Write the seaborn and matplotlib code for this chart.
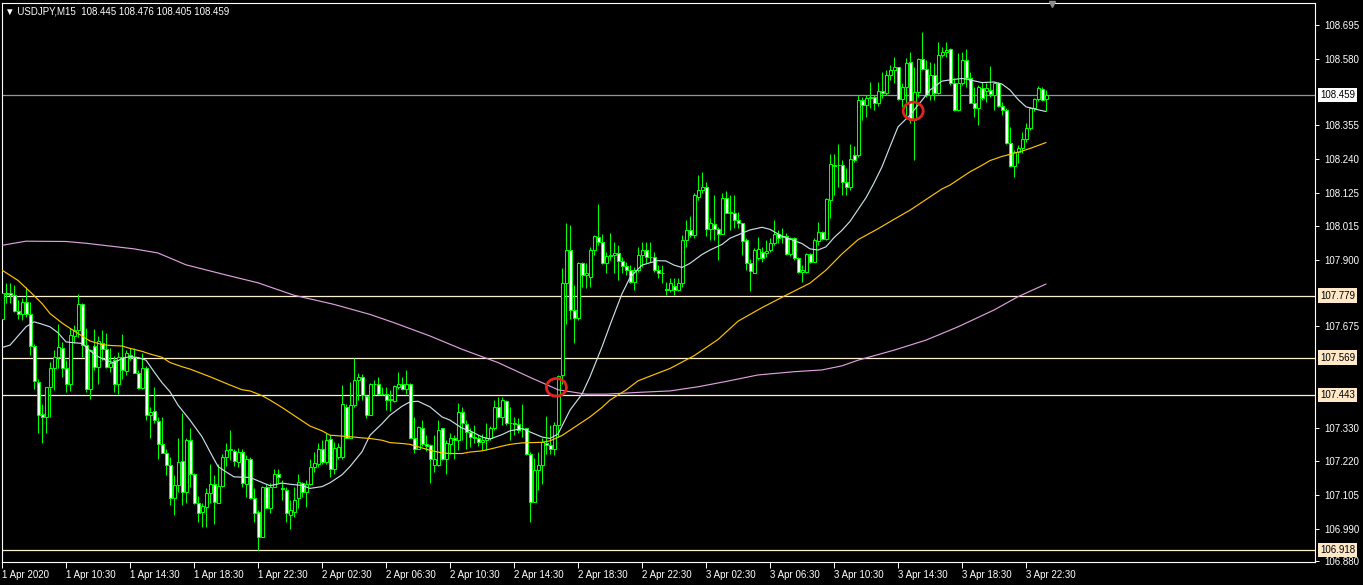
import numpy as np
import pandas as pd
import matplotlib
matplotlib.use("Agg")
import matplotlib.pyplot as plt
from matplotlib.patches import Ellipse
import seaborn as sns

# USDJPY M15 bars, 1 Apr 06:30 -> 3 Apr 23:45
opens = [
    107.698, 107.786, 107.786, 107.780, 107.726, 107.715, 107.756, 107.716, 107.609, 107.487,
    107.377, 107.366, 107.470, 107.532, 107.572, 107.603, 107.535, 107.478, 107.642, 107.662,
    107.749, 107.613, 107.461, 107.608, 107.538, 107.617, 107.599, 107.538, 107.560, 107.481,
    107.572, 107.524, 107.577, 107.572, 107.517, 107.467, 107.532, 107.376, 107.389, 107.355,
    107.275, 107.246, 107.205, 107.092, 107.137, 107.218, 107.114, 107.289, 107.173, 107.075,
    107.047, 107.064, 107.111, 107.140, 107.077, 107.133, 107.231, 107.255, 107.253, 107.215,
    107.249, 107.140, 107.227, 107.095, 107.047, 106.962, 107.131, 107.058, 107.131, 107.176,
    107.127, 107.122, 107.035, 107.047, 107.092, 107.145, 107.114, 107.140, 107.199, 107.210,
    107.258, 107.216, 107.293, 107.193, 107.231, 107.231, 107.402, 107.298, 107.408, 107.493,
    107.502, 107.438, 107.376, 107.478, 107.481, 107.447, 107.444, 107.425, 107.421, 107.470,
    107.481, 107.464, 107.481, 107.298, 107.261, 107.332, 107.276, 107.272, 107.205, 107.205,
    107.329, 107.227, 107.275, 107.297, 107.289, 107.385, 107.343, 107.318, 107.301, 107.298,
    107.284, 107.289, 107.295, 107.329, 107.402, 107.366, 107.421, 107.346, 107.349, 107.343,
    107.329, 107.329, 107.244, 107.080, 107.188, 107.205, 107.280, 107.272, 107.261, 107.340,
    107.509, 107.820, 107.933, 107.730, 107.704, 107.890, 107.848, 107.842, 107.933, 107.976,
    107.961, 107.888, 107.912, 107.915, 107.922, 107.896, 107.880, 107.865, 107.826, 107.865,
    107.916, 107.933, 107.910, 107.910, 107.865, 107.856, 107.801, 107.797, 107.811, 107.797,
    107.822, 107.967, 108.001, 107.984, 108.114, 108.136, 108.145, 108.003, 108.020, 108.003,
    107.989, 108.108, 108.060, 108.060, 108.035, 108.023, 107.967, 107.890, 107.856, 107.905,
    107.927, 107.922, 107.933, 107.958, 107.986, 107.976, 107.980, 107.919, 107.973, 107.905,
    107.860, 107.860, 107.919, 107.894, 107.965, 107.995, 107.969, 108.102, 108.221, 108.220,
    108.221, 108.164, 108.147, 108.255, 108.255, 108.441, 108.424, 108.447, 108.452, 108.430,
    108.473, 108.466, 108.526, 108.543, 108.552, 108.443, 108.486, 108.571, 108.373, 108.469,
    108.579, 108.545, 108.458, 108.526, 108.464, 108.593, 108.605, 108.613, 108.500, 108.407,
    108.500, 108.577, 108.514, 108.432, 108.413, 108.481, 108.473, 108.475, 108.458, 108.497,
    108.421, 108.407, 108.297, 108.218, 108.266, 108.277, 108.308, 108.345, 108.413, 108.443,
    108.477, 108.445,
]
highs = [
    107.837, 107.820, 107.822, 107.814, 107.764, 107.769, 107.809, 107.758, 107.614, 107.496,
    107.411, 107.470, 107.555, 107.594, 107.684, 107.622, 107.560, 107.668, 107.679, 107.784,
    107.752, 107.668, 107.598, 107.664, 107.642, 107.662, 107.653, 107.603, 107.574, 107.589,
    107.648, 107.594, 107.603, 107.603, 107.526, 107.583, 107.540, 107.402, 107.470, 107.368,
    107.368, 107.261, 107.233, 107.171, 107.295, 107.382, 107.295, 107.329, 107.178, 107.100,
    107.075, 107.126, 107.208, 107.171, 107.210, 107.244, 107.278, 107.323, 107.261, 107.264,
    107.261, 107.238, 107.231, 107.126, 107.052, 107.133, 107.140, 107.143, 107.193, 107.193,
    107.154, 107.131, 107.088, 107.131, 107.176, 107.148, 107.154, 107.227, 107.250, 107.278,
    107.289, 107.312, 107.306, 107.284, 107.278, 107.476, 107.413, 107.487, 107.566, 107.515,
    107.513, 107.442, 107.483, 107.493, 107.504, 107.470, 107.470, 107.459, 107.476, 107.521,
    107.504, 107.526, 107.483, 107.366, 107.337, 107.359, 107.306, 107.276, 107.306, 107.359,
    107.332, 107.289, 107.312, 107.306, 107.416, 107.402, 107.357, 107.332, 107.340, 107.306,
    107.309, 107.346, 107.337, 107.425, 107.436, 107.436, 107.425, 107.402, 107.368, 107.363,
    107.413, 107.332, 107.250, 107.228, 107.250, 107.295, 107.371, 107.340, 107.351, 107.509,
    107.871, 108.023, 108.017, 107.814, 107.893, 107.893, 107.888, 107.944, 107.984, 108.089,
    107.989, 107.927, 107.991, 107.961, 107.950, 107.910, 107.893, 107.882, 107.876, 107.944,
    107.961, 107.961, 107.961, 107.927, 107.882, 107.882, 107.826, 107.837, 107.837, 107.837,
    107.984, 108.035, 108.048, 108.125, 108.187, 108.198, 108.164, 108.040, 108.119, 108.012,
    108.127, 108.134, 108.119, 108.119, 108.063, 108.026, 107.973, 107.901, 107.939, 107.976,
    107.944, 107.967, 107.973, 108.035, 108.001, 108.006, 107.990, 107.978, 107.978, 107.908,
    107.882, 107.922, 107.922, 107.973, 108.029, 107.998, 108.108, 108.258, 108.258, 108.292,
    108.238, 108.210, 108.292, 108.285, 108.458, 108.450, 108.458, 108.503, 108.458, 108.503,
    108.537, 108.543, 108.560, 108.588, 108.554, 108.497, 108.582, 108.605, 108.554, 108.582,
    108.672, 108.577, 108.571, 108.565, 108.639, 108.622, 108.639, 108.616, 108.514, 108.599,
    108.605, 108.613, 108.537, 108.486, 108.492, 108.503, 108.497, 108.556, 108.503, 108.503,
    108.435, 108.413, 108.351, 108.272, 108.289, 108.334, 108.362, 108.419, 108.447, 108.488,
    108.484, 108.476,
]
lows = [
    107.662, 107.754, 107.754, 107.724, 107.698, 107.696, 107.705, 107.577, 107.464, 107.314,
    107.278, 107.312, 107.368, 107.459, 107.532, 107.504, 107.453, 107.456, 107.617, 107.639,
    107.572, 107.453, 107.427, 107.526, 107.481, 107.560, 107.535, 107.521, 107.453, 107.447,
    107.498, 107.509, 107.560, 107.515, 107.461, 107.464, 107.359, 107.295, 107.349, 107.227,
    107.246, 107.171, 107.069, 107.035, 107.114, 107.069, 107.075, 107.131, 107.073, 107.013,
    106.994, 106.996, 107.077, 107.007, 107.075, 107.131, 107.201, 107.222, 107.201, 107.199,
    107.131, 107.097, 107.091, 107.013, 106.917, 106.960, 107.058, 107.041, 107.129, 107.143,
    107.086, 107.013, 106.990, 107.030, 107.058, 107.097, 107.064, 107.137, 107.182, 107.197,
    107.210, 107.208, 107.165, 107.176, 107.227, 107.227, 107.295, 107.295, 107.402, 107.425,
    107.425, 107.363, 107.374, 107.442, 107.445, 107.442, 107.391, 107.389, 107.419, 107.461,
    107.459, 107.447, 107.295, 107.246, 107.258, 107.269, 107.253, 107.143, 107.182, 107.201,
    107.222, 107.176, 107.244, 107.227, 107.255, 107.289, 107.261, 107.267, 107.278, 107.269,
    107.255, 107.255, 107.289, 107.325, 107.363, 107.340, 107.340, 107.289, 107.306, 107.312,
    107.301, 107.238, 107.013, 107.080, 107.120, 107.142, 107.244, 107.244, 107.238, 107.301,
    107.481, 107.684, 107.700, 107.617, 107.696, 107.809, 107.806, 107.809, 107.916, 107.950,
    107.885, 107.854, 107.899, 107.854, 107.831, 107.854, 107.848, 107.822, 107.797, 107.859,
    107.876, 107.888, 107.893, 107.859, 107.837, 107.820, 107.780, 107.792, 107.780, 107.795,
    107.809, 107.944, 107.978, 107.973, 108.102, 108.125, 107.980, 107.967, 107.967, 107.899,
    107.987, 108.057, 108.001, 108.006, 108.006, 107.916, 107.865, 107.795, 107.854, 107.899,
    107.894, 107.910, 107.927, 107.950, 107.956, 107.956, 107.916, 107.913, 107.899, 107.856,
    107.826, 107.854, 107.888, 107.894, 107.950, 107.967, 107.967, 108.040, 108.119, 108.148,
    108.119, 108.119, 108.136, 108.232, 108.249, 108.373, 108.385, 108.413, 108.407, 108.421,
    108.447, 108.458, 108.509, 108.497, 108.441, 108.418, 108.385, 108.362, 108.238, 108.452,
    108.543, 108.452, 108.441, 108.441, 108.461, 108.588, 108.588, 108.492, 108.405, 108.405,
    108.492, 108.486, 108.430, 108.385, 108.356, 108.441, 108.435, 108.452, 108.407, 108.418,
    108.390, 108.292, 108.215, 108.181, 108.227, 108.260, 108.300, 108.339, 108.405, 108.439,
    108.439, 108.405,
]
closes = [
    107.786, 107.784, 107.780, 107.727, 107.718, 107.756, 107.718, 107.608, 107.489, 107.376,
    107.366, 107.470, 107.532, 107.572, 107.605, 107.535, 107.478, 107.645, 107.662, 107.749,
    107.613, 107.461, 107.594, 107.538, 107.625, 107.599, 107.538, 107.549, 107.481, 107.572,
    107.526, 107.583, 107.572, 107.517, 107.467, 107.532, 107.376, 107.385, 107.357, 107.275,
    107.246, 107.205, 107.092, 107.139, 107.216, 107.114, 107.289, 107.173, 107.075, 107.043,
    107.066, 107.111, 107.140, 107.080, 107.133, 107.231, 107.255, 107.258, 107.219, 107.249,
    107.143, 107.227, 107.095, 107.041, 106.962, 107.131, 107.060, 107.131, 107.174, 107.163,
    107.124, 107.041, 107.052, 107.088, 107.148, 107.114, 107.140, 107.199, 107.213, 107.261,
    107.216, 107.289, 107.193, 107.264, 107.267, 107.411, 107.298, 107.408, 107.493, 107.502,
    107.442, 107.374, 107.478, 107.481, 107.447, 107.445, 107.425, 107.427, 107.472, 107.481,
    107.464, 107.478, 107.298, 107.261, 107.334, 107.276, 107.269, 107.224, 107.224, 107.325,
    107.224, 107.278, 107.295, 107.289, 107.385, 107.346, 107.318, 107.301, 107.298, 107.284,
    107.289, 107.297, 107.329, 107.402, 107.368, 107.425, 107.346, 107.349, 107.343, 107.325,
    107.331, 107.244, 107.080, 107.188, 107.205, 107.284, 107.272, 107.261, 107.340, 107.506,
    107.822, 107.933, 107.730, 107.704, 107.890, 107.848, 107.854, 107.933, 107.980, 107.961,
    107.888, 107.912, 107.915, 107.922, 107.896, 107.880, 107.865, 107.826, 107.865, 107.916,
    107.933, 107.910, 107.908, 107.865, 107.856, 107.856, 107.797, 107.822, 107.797, 107.822,
    107.967, 108.001, 107.984, 108.119, 108.136, 108.145, 108.003, 108.026, 108.003, 107.989,
    108.108, 108.060, 108.062, 108.035, 108.026, 107.965, 107.890, 107.863, 107.933, 107.935,
    107.905, 107.931, 107.956, 107.987, 107.973, 107.980, 107.919, 107.973, 107.905, 107.860,
    107.865, 107.919, 107.894, 107.967, 107.995, 107.969, 108.105, 108.224, 108.219, 108.222,
    108.164, 108.148, 108.240, 108.238, 108.441, 108.424, 108.447, 108.452, 108.432, 108.473,
    108.466, 108.526, 108.543, 108.552, 108.443, 108.486, 108.567, 108.373, 108.469, 108.579,
    108.545, 108.458, 108.526, 108.464, 108.593, 108.605, 108.610, 108.500, 108.407, 108.500,
    108.577, 108.514, 108.432, 108.413, 108.486, 108.447, 108.481, 108.461, 108.497, 108.421,
    108.407, 108.294, 108.218, 108.266, 108.277, 108.308, 108.345, 108.413, 108.443, 108.480,
    108.441, 108.459,
]

# moving averages (values read at bar index)
fast_idx = [0, 2, 4, 6, 8, 10, 12, 14, 16, 18, 20, 22, 24, 26, 28, 30, 32, 34, 36, 38, 40, 42, 44,
            47, 50, 52, 54, 56, 58, 62, 65, 67, 70, 72, 75, 77, 80, 82, 85, 87, 90, 92, 95, 97,
            100, 102, 104, 107, 110, 112, 115, 117, 120, 122, 125, 127, 130, 132, 135, 137, 139,
            142, 145, 147, 150, 152, 155, 157, 160, 162, 164, 166, 168, 170, 172, 175, 177, 180,
            182, 185, 187, 190, 192, 195, 197, 200, 202, 204, 206, 208, 210, 212, 214, 216, 218,
            220, 222, 224, 227, 230, 232, 235, 237, 240, 242, 245, 248, 250, 252, 254, 256, 259, 261]
fast_ma = [107.603, 107.611, 107.642, 107.673, 107.690, 107.682, 107.673, 107.653, 107.622, 107.619,
           107.617, 107.592, 107.572, 107.560, 107.551, 107.566, 107.572, 107.569, 107.560, 107.521,
           107.484, 107.453, 107.408, 107.357, 107.301, 107.250, 107.200, 107.182, 107.165, 107.163,
           107.146, 107.135, 107.144, 107.140, 107.136, 107.126, 107.132, 107.145, 107.172, 107.200,
           107.250, 107.306, 107.345, 107.374, 107.404, 107.419, 107.421, 107.402, 107.368, 107.357,
           107.330, 107.321, 107.300, 107.293, 107.308, 107.321, 107.328, 107.317, 107.300, 107.295,
           107.310, 107.391, 107.445, 107.504, 107.605, 107.679, 107.785, 107.840, 107.882, 107.890,
           107.897, 107.896, 107.882, 107.874, 107.888, 107.918, 107.933, 107.952, 107.973, 107.990,
           108.001, 108.010, 108.003, 107.980, 107.970, 107.955, 107.937, 107.933, 107.944, 107.975,
           108.000, 108.030, 108.070, 108.110, 108.160, 108.215, 108.283, 108.350, 108.390, 108.440,
           108.475, 108.505, 108.509, 108.514, 108.509, 108.500, 108.502, 108.495, 108.475, 108.443,
           108.418, 108.408, 108.402]

mid_idx = [0, 4, 7, 10, 12, 15, 17, 20, 22, 25, 27, 30, 32, 35, 37, 40, 42, 45, 47, 52, 57, 60, 62,
           65, 67, 70, 72, 75, 77, 80, 82, 85, 87, 90, 92, 95, 97, 100, 102, 105, 107, 110, 112,
           115, 117, 120, 122, 125, 127, 130, 135, 137, 140, 142, 145, 147, 150, 152, 156, 159,
           162, 167, 173, 179, 184, 190, 196, 202, 206, 210, 214, 219, 223, 227, 231, 235, 237,
           240, 242, 245, 247, 250, 252, 255, 257, 259, 261]
mid_ma = [107.865, 107.830, 107.792, 107.752, 107.718, 107.686, 107.668, 107.642, 107.625, 107.613,
          107.610, 107.608, 107.600, 107.590, 107.581, 107.570, 107.552, 107.538, 107.530, 107.504,
          107.476, 107.460, 107.456, 107.440, 107.425, 107.400, 107.382, 107.355, 107.337, 107.321,
          107.306, 107.303, 107.301, 107.297, 107.295, 107.289, 107.281, 107.278, 107.275, 107.263,
          107.255, 107.246, 107.244, 107.244, 107.249, 107.253, 107.259, 107.269, 107.275, 107.280,
          107.282, 107.287, 107.305, 107.323, 107.350, 107.368, 107.400, 107.425, 107.459, 107.490,
          107.506, 107.532, 107.575, 107.630, 107.692, 107.738, 107.780, 107.821, 107.865, 107.920,
          107.968, 108.005, 108.037, 108.068, 108.104, 108.140, 108.153, 108.180, 108.198, 108.220,
          108.236, 108.250, 108.257, 108.268, 108.277, 108.287, 108.297]

slow_idx = [0, 6, 16, 21, 33, 39, 46, 55, 64, 73, 83, 92, 98, 107, 115, 124, 132, 139, 146, 151,
            159, 167, 174, 181, 189, 198, 205, 210, 214, 223, 231, 239, 248, 254, 261]
slow_ma = [107.949, 107.963, 107.962, 107.956, 107.937, 107.923, 107.883, 107.852, 107.822, 107.780,
           107.749, 107.715, 107.687, 107.642, 107.597, 107.552, 107.502, 107.460, 107.445, 107.445,
           107.451, 107.456, 107.470, 107.488, 107.510, 107.521, 107.527, 107.541, 107.560, 107.594,
           107.628, 107.673, 107.730, 107.775, 107.818]

levels = [107.779, 107.569, 107.443, 106.918]
last_price = 108.459
price_ticks = [108.695, 108.580, 108.355, 108.240, 108.125, 108.015, 107.900,
               107.675, 107.330, 107.220, 107.105, 106.990, 106.880]
time_labels = ["1 Apr 2020", "1 Apr 10:30", "1 Apr 14:30", "1 Apr 18:30", "1 Apr 22:30",
               "2 Apr 02:30", "2 Apr 06:30", "2 Apr 10:30", "2 Apr 14:30", "2 Apr 18:30",
               "2 Apr 22:30", "3 Apr 02:30", "3 Apr 06:30", "3 Apr 10:30", "3 Apr 14:30",
               "3 Apr 18:30", "3 Apr 22:30"]
# crossover marks
mark_idx = [138.6, 227.8]
mark_price = [107.468, 108.404]
header = "USDJPY,M15  108.445 108.476 108.405 108.459"

sns.set_style("dark", {"axes.facecolor": "black", "figure.facecolor": "black"})
plt.rcParams['font.family'] = ['Liberation Sans', 'DejaVu Sans']

df = pd.DataFrame({'open': opens, 'high': highs, 'low': lows, 'close': closes})
df['bar'] = np.arange(len(df))
df['bull'] = df['close'] >= df['open']

fig = plt.figure(figsize=(13.63, 5.85), dpi=100, facecolor='black')
ax = fig.add_axes([1.5 / 1363, 23 / 585, 1313.5 / 1363, 559 / 585])
ax.set_facecolor('black')
ax.grid(False)

lime = '#00ff00'
# wicks then bodies (bull = hollow black, bear = white)
ax.vlines(df['bar'], df['low'], df['high'], color=lime, lw=0.75, zorder=2)
ax.bar(df['bar'], df['close'] - df['open'], bottom=df['open'], width=0.75,
       color=np.where(df['bull'], 'black', 'white'), edgecolor=lime, linewidth=0.75, zorder=3)

sns.lineplot(x=fast_idx, y=fast_ma, ax=ax, color='#c8dee6', lw=0.85, zorder=4)
sns.lineplot(x=mid_idx, y=mid_ma, ax=ax, color='#ffc400', lw=0.85, zorder=4)
sns.lineplot(x=slow_idx, y=slow_ma, ax=ax, color='#dda0dd', lw=0.85, zorder=4)

for lv in levels:
    ax.axhline(lv, color='#fff0d4', lw=0.9, zorder=1)
ax.axhline(last_price, color='#8a98a8', lw=0.9, zorder=1)

for mi, mp in zip(mark_idx, mark_price):
    ax.add_patch(Ellipse((mi, mp), width=5.0, height=0.06, fill=False,
                         ec='#e52222', lw=2.0, zorder=6))

ax.set_xlim(-0.125, 328.25)
ax.set_ylim(106.8767, 108.7695)

ax.yaxis.tick_right()
ax.set_yticks(price_ticks)
ax.set_yticklabels([f"{v:.3f}" for v in price_ticks])
ax.set_xticks(np.arange(len(time_labels)) * 16)
ax.set_xticklabels(time_labels)
for t in ax.get_xticklabels():
    t.set_horizontalalignment('left')
ax.tick_params(axis='y', which='both', right=True, left=False, length=3, width=0.7,
               colors='white', labelsize=7, pad=3.5)
ax.tick_params(axis='x', which='both', bottom=True, length=4, width=0.7,
               colors='white', labelsize=7, pad=2)
for s in ax.spines.values():
    s.set_color('white')
    s.set_linewidth(0.8)
    s.set_visible(True)

# boxed price labels on the scale
ytr = ax.get_yaxis_transform()
for lv in levels:
    ax.text(1.0 + 5 / 1313.5, lv, f"{lv:.3f}", transform=ytr, ha='left', va='center',
            fontsize=7, color='black', clip_on=False, zorder=7,
            bbox=dict(boxstyle='square,pad=0.22', fc='#ffe8c8', ec='none'))
ax.text(1.0 + 5 / 1313.5, last_price, f"{last_price:.3f}", transform=ytr, ha='left', va='center',
        fontsize=7, color='black', clip_on=False, zorder=7,
        bbox=dict(boxstyle='square,pad=0.22', fc='white', ec='none'))

# chart-shift marker
ax.plot([len(df) + 0.5], [0.998], marker='v', ms=5, color='#8c8c8c',
        transform=ax.get_xaxis_transform(), clip_on=False, zorder=7)

fig.text(5 / 1363, 1 - 11 / 585, "\u25BC " + header, color='white', fontsize=7,
         ha='left', va='center')

fig.savefig('out.png', dpi=100, facecolor='black')
